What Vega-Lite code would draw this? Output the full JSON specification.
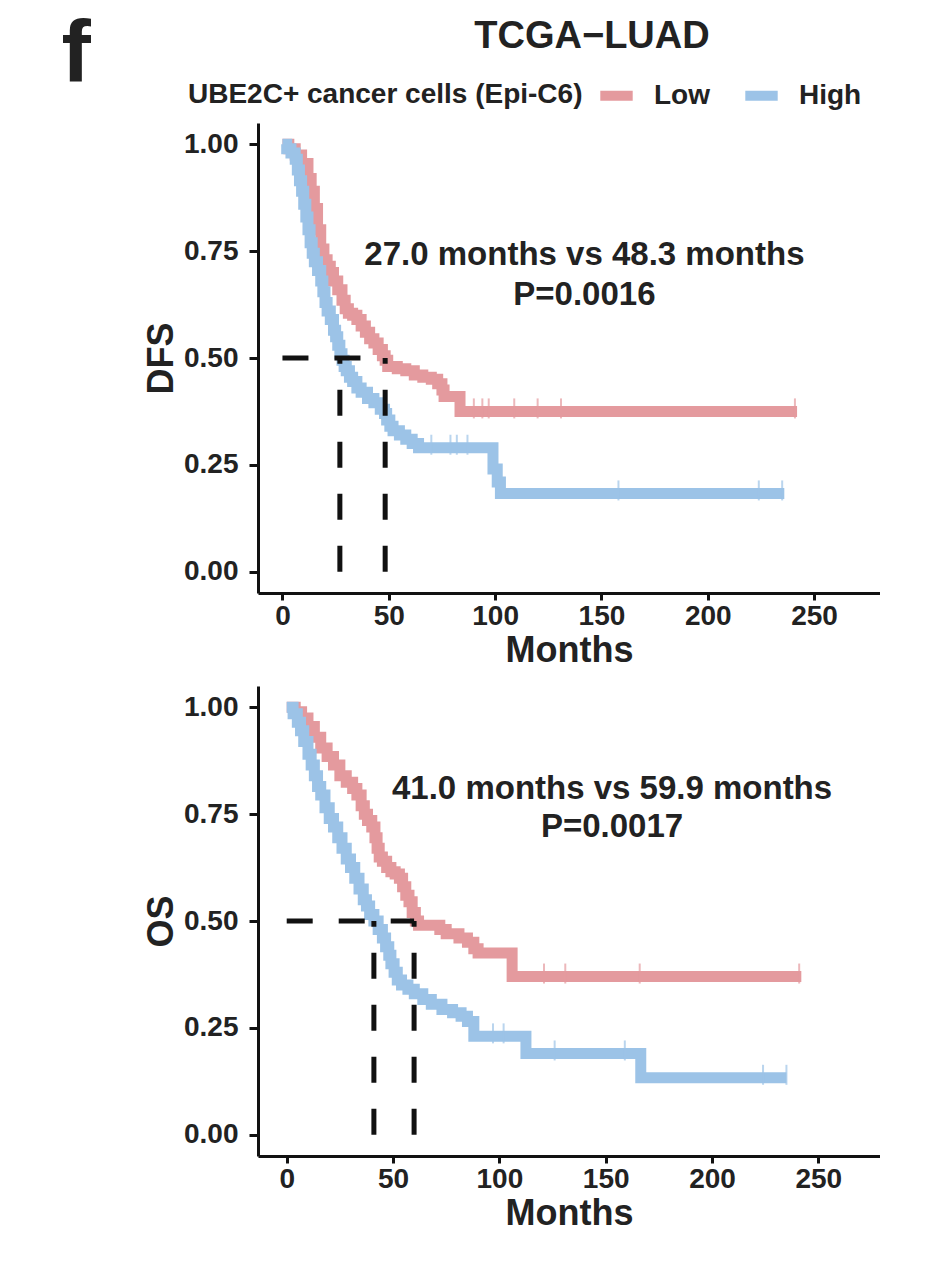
{
  "$schema": "https://vega.github.io/schema/vega-lite/v6.json",
  "padding": {"left": 61, "top": 11, "right": 0, "bottom": 0},
  "background": "white",
  "config": {
    "view": {"stroke": null},
    "font": "Liberation Sans",
    "axis": {
      "grid": false,
      "domainColor": "#111111",
      "domainWidth": 3,
      "tickColor": "#111111",
      "tickWidth": 3,
      "labelFont": "Liberation Sans",
      "labelFontSize": 28,
      "labelFontWeight": "bold",
      "labelColor": "#222222",
      "titleFont": "Liberation Sans",
      "titleFontSize": 36,
      "titleFontWeight": "bold",
      "titleColor": "#222222"
    },
    "axisX": {"tickSize": 7, "labelPadding": 2, "titlePadding": 3},
    "axisY": {"tickSize": 9, "labelPadding": 11, "titlePadding": 3},
    "title": {"font": "Liberation Sans", "fontWeight": "bold", "color": "#222222"}
  },
  "title": {"text": "f", "anchor": "start", "frame": "bounds", "fontSize": 88, "dx": -82, "offset": -81},
  "datasets": {
    "km": [
      {"panel":"DFS","group":"Low","month":0,"surv":1},{"panel":"DFS","group":"Low","month":3,"surv":0.99},{"panel":"DFS","group":"Low","month":6,"surv":0.975},{"panel":"DFS","group":"Low","month":9,"surv":0.955},{"panel":"DFS","group":"Low","month":12,"surv":0.92},{"panel":"DFS","group":"Low","month":13.5,"surv":0.89},{"panel":"DFS","group":"Low","month":15,"surv":0.85},{"panel":"DFS","group":"Low","month":16.5,"surv":0.8},{"panel":"DFS","group":"Low","month":18,"surv":0.755},{"panel":"DFS","group":"Low","month":19.5,"surv":0.73},{"panel":"DFS","group":"Low","month":21,"surv":0.715},{"panel":"DFS","group":"Low","month":22.5,"surv":0.7},{"panel":"DFS","group":"Low","month":24,"surv":0.68},{"panel":"DFS","group":"Low","month":26,"surv":0.66},{"panel":"DFS","group":"Low","month":28,"surv":0.635},{"panel":"DFS","group":"Low","month":29.5,"surv":0.615},{"panel":"DFS","group":"Low","month":31,"surv":0.605},{"panel":"DFS","group":"Low","month":33,"surv":0.6},{"panel":"DFS","group":"Low","month":35,"surv":0.59},{"panel":"DFS","group":"Low","month":37,"surv":0.575},{"panel":"DFS","group":"Low","month":39,"surv":0.56},{"panel":"DFS","group":"Low","month":41,"surv":0.545},{"panel":"DFS","group":"Low","month":43,"surv":0.535},{"panel":"DFS","group":"Low","month":45,"surv":0.52},{"panel":"DFS","group":"Low","month":47,"surv":0.505},{"panel":"DFS","group":"Low","month":48.3,"surv":0.495},{"panel":"DFS","group":"Low","month":49.5,"surv":0.48},{"panel":"DFS","group":"Low","month":54,"surv":0.475},{"panel":"DFS","group":"Low","month":58,"surv":0.47},{"panel":"DFS","group":"Low","month":62,"surv":0.46},{"panel":"DFS","group":"Low","month":66,"surv":0.455},{"panel":"DFS","group":"Low","month":70,"surv":0.45},{"panel":"DFS","group":"Low","month":73,"surv":0.44},{"panel":"DFS","group":"Low","month":75,"surv":0.425},{"panel":"DFS","group":"Low","month":76,"surv":0.41},{"panel":"DFS","group":"Low","month":83.5,"surv":0.375},{"panel":"DFS","group":"Low","month":242,"surv":0.375},
      {"panel":"DFS","group":"High","month":0,"surv":1},{"panel":"DFS","group":"High","month":2,"surv":0.99},{"panel":"DFS","group":"High","month":4,"surv":0.98},{"panel":"DFS","group":"High","month":6,"surv":0.965},{"panel":"DFS","group":"High","month":7,"surv":0.94},{"panel":"DFS","group":"High","month":8,"surv":0.915},{"panel":"DFS","group":"High","month":9,"surv":0.89},{"panel":"DFS","group":"High","month":10,"surv":0.86},{"panel":"DFS","group":"High","month":11,"surv":0.83},{"panel":"DFS","group":"High","month":12,"surv":0.8},{"panel":"DFS","group":"High","month":13,"surv":0.77},{"panel":"DFS","group":"High","month":14,"surv":0.745},{"panel":"DFS","group":"High","month":15,"surv":0.725},{"panel":"DFS","group":"High","month":16.5,"surv":0.705},{"panel":"DFS","group":"High","month":18,"surv":0.68},{"panel":"DFS","group":"High","month":19,"surv":0.655},{"panel":"DFS","group":"High","month":20,"surv":0.63},{"panel":"DFS","group":"High","month":21,"surv":0.61},{"panel":"DFS","group":"High","month":22.5,"surv":0.59},{"panel":"DFS","group":"High","month":24,"surv":0.565},{"panel":"DFS","group":"High","month":25,"surv":0.55},{"panel":"DFS","group":"High","month":26,"surv":0.53},{"panel":"DFS","group":"High","month":27,"surv":0.51},{"panel":"DFS","group":"High","month":28,"surv":0.495},{"panel":"DFS","group":"High","month":29,"surv":0.48},{"panel":"DFS","group":"High","month":30,"surv":0.47},{"panel":"DFS","group":"High","month":31.5,"surv":0.455},{"panel":"DFS","group":"High","month":33,"surv":0.445},{"panel":"DFS","group":"High","month":35,"surv":0.43},{"panel":"DFS","group":"High","month":37,"surv":0.42},{"panel":"DFS","group":"High","month":40,"surv":0.405},{"panel":"DFS","group":"High","month":43,"surv":0.395},{"panel":"DFS","group":"High","month":46,"surv":0.38},{"panel":"DFS","group":"High","month":48,"surv":0.37},{"panel":"DFS","group":"High","month":49,"surv":0.355},{"panel":"DFS","group":"High","month":50.5,"surv":0.34},{"panel":"DFS","group":"High","month":52,"surv":0.33},{"panel":"DFS","group":"High","month":55,"surv":0.32},{"panel":"DFS","group":"High","month":58,"surv":0.31},{"panel":"DFS","group":"High","month":61,"surv":0.3},{"panel":"DFS","group":"High","month":64,"surv":0.29},{"panel":"DFS","group":"High","month":99,"surv":0.24},{"panel":"DFS","group":"High","month":101,"surv":0.21},{"panel":"DFS","group":"High","month":102.5,"surv":0.183},{"panel":"DFS","group":"High","month":236,"surv":0.183},
      {"panel":"OS","group":"Low","month":0,"surv":1},{"panel":"OS","group":"Low","month":4,"surv":0.99},{"panel":"OS","group":"Low","month":7,"surv":0.975},{"panel":"OS","group":"Low","month":10,"surv":0.955},{"panel":"OS","group":"Low","month":13,"surv":0.93},{"panel":"OS","group":"Low","month":16,"surv":0.905},{"panel":"OS","group":"Low","month":19,"surv":0.885},{"panel":"OS","group":"Low","month":22,"surv":0.865},{"panel":"OS","group":"Low","month":25,"surv":0.84},{"panel":"OS","group":"Low","month":28,"surv":0.825},{"panel":"OS","group":"Low","month":31,"surv":0.81},{"panel":"OS","group":"Low","month":33,"surv":0.795},{"panel":"OS","group":"Low","month":35,"surv":0.77},{"panel":"OS","group":"Low","month":36.5,"surv":0.75},{"panel":"OS","group":"Low","month":38,"surv":0.735},{"panel":"OS","group":"Low","month":40,"surv":0.72},{"panel":"OS","group":"Low","month":41.5,"surv":0.695},{"panel":"OS","group":"Low","month":42.5,"surv":0.67},{"panel":"OS","group":"Low","month":43.5,"surv":0.65},{"panel":"OS","group":"Low","month":45,"surv":0.64},{"panel":"OS","group":"Low","month":47,"surv":0.625},{"panel":"OS","group":"Low","month":49,"surv":0.615},{"panel":"OS","group":"Low","month":51,"surv":0.61},{"panel":"OS","group":"Low","month":53,"surv":0.6},{"panel":"OS","group":"Low","month":54.5,"surv":0.58},{"panel":"OS","group":"Low","month":56,"surv":0.56},{"panel":"OS","group":"Low","month":57.5,"surv":0.545},{"panel":"OS","group":"Low","month":59,"surv":0.52},{"panel":"OS","group":"Low","month":60.5,"surv":0.5},{"panel":"OS","group":"Low","month":62,"surv":0.49},{"panel":"OS","group":"Low","month":72,"surv":0.48},{"panel":"OS","group":"Low","month":75,"surv":0.47},{"panel":"OS","group":"Low","month":81,"surv":0.46},{"panel":"OS","group":"Low","month":85,"surv":0.45},{"panel":"OS","group":"Low","month":88,"surv":0.435},{"panel":"OS","group":"Low","month":90,"surv":0.425},{"panel":"OS","group":"Low","month":106,"surv":0.37},{"panel":"OS","group":"Low","month":242,"surv":0.37},
      {"panel":"OS","group":"High","month":0,"surv":1},{"panel":"OS","group":"High","month":3,"surv":0.985},{"panel":"OS","group":"High","month":5,"surv":0.965},{"panel":"OS","group":"High","month":6.5,"surv":0.945},{"panel":"OS","group":"High","month":8,"surv":0.92},{"panel":"OS","group":"High","month":10,"surv":0.89},{"panel":"OS","group":"High","month":11.5,"surv":0.865},{"panel":"OS","group":"High","month":13,"surv":0.84},{"panel":"OS","group":"High","month":14.5,"surv":0.815},{"panel":"OS","group":"High","month":16,"surv":0.795},{"panel":"OS","group":"High","month":18,"surv":0.765},{"panel":"OS","group":"High","month":20,"surv":0.74},{"panel":"OS","group":"High","month":22,"surv":0.72},{"panel":"OS","group":"High","month":24,"surv":0.695},{"panel":"OS","group":"High","month":26,"surv":0.67},{"panel":"OS","group":"High","month":28,"surv":0.645},{"panel":"OS","group":"High","month":30,"surv":0.625},{"panel":"OS","group":"High","month":32,"surv":0.6},{"panel":"OS","group":"High","month":34,"surv":0.575},{"panel":"OS","group":"High","month":36,"surv":0.55},{"panel":"OS","group":"High","month":37.5,"surv":0.535},{"panel":"OS","group":"High","month":39,"surv":0.515},{"panel":"OS","group":"High","month":41,"surv":0.5},{"panel":"OS","group":"High","month":43,"surv":0.48},{"panel":"OS","group":"High","month":45,"surv":0.46},{"panel":"OS","group":"High","month":46.5,"surv":0.44},{"panel":"OS","group":"High","month":48,"surv":0.42},{"panel":"OS","group":"High","month":49,"surv":0.4},{"panel":"OS","group":"High","month":50.5,"surv":0.38},{"panel":"OS","group":"High","month":52,"surv":0.362},{"panel":"OS","group":"High","month":54,"surv":0.35},{"panel":"OS","group":"High","month":57,"surv":0.34},{"panel":"OS","group":"High","month":60,"surv":0.33},{"panel":"OS","group":"High","month":64,"surv":0.316},{"panel":"OS","group":"High","month":68,"surv":0.305},{"panel":"OS","group":"High","month":73,"surv":0.293},{"panel":"OS","group":"High","month":78,"surv":0.285},{"panel":"OS","group":"High","month":82,"surv":0.277},{"panel":"OS","group":"High","month":85,"surv":0.265},{"panel":"OS","group":"High","month":88,"surv":0.23},{"panel":"OS","group":"High","month":112.5,"surv":0.19},{"panel":"OS","group":"High","month":166.5,"surv":0.133},{"panel":"OS","group":"High","month":235,"surv":0.133}
    ],
    "censor": [
      {"panel":"DFS","group":"Low","month":90,"surv":0.375},{"panel":"DFS","group":"Low","month":94,"surv":0.375},{"panel":"DFS","group":"Low","month":97,"surv":0.375},{"panel":"DFS","group":"Low","month":109,"surv":0.375},{"panel":"DFS","group":"Low","month":120,"surv":0.375},{"panel":"DFS","group":"Low","month":131,"surv":0.375},{"panel":"DFS","group":"Low","month":241,"surv":0.375},
      {"panel":"DFS","group":"High","month":70,"surv":0.29},{"panel":"DFS","group":"High","month":79,"surv":0.29},{"panel":"DFS","group":"High","month":82,"surv":0.29},{"panel":"DFS","group":"High","month":87,"surv":0.29},{"panel":"DFS","group":"High","month":158,"surv":0.183},{"panel":"DFS","group":"High","month":224,"surv":0.183},{"panel":"DFS","group":"High","month":235,"surv":0.183},
      {"panel":"OS","group":"Low","month":121,"surv":0.37},{"panel":"OS","group":"Low","month":131,"surv":0.37},{"panel":"OS","group":"Low","month":166,"surv":0.37},{"panel":"OS","group":"Low","month":241,"surv":0.37},
      {"panel":"OS","group":"High","month":97,"surv":0.23},{"panel":"OS","group":"High","month":102,"surv":0.23},{"panel":"OS","group":"High","month":126,"surv":0.19},{"panel":"OS","group":"High","month":159,"surv":0.19},{"panel":"OS","group":"High","month":224,"surv":0.133},{"panel":"OS","group":"High","month":235,"surv":0.133}
    ],
    "median": [
      {"panel":"DFS","group":"High","month":27.0},{"panel":"DFS","group":"Low","month":48.3},
      {"panel":"OS","group":"High","month":41.0},{"panel":"OS","group":"Low","month":59.9}
    ],
    "hline": [
      {"panel":"DFS","start":0,"end":48.3},
      {"panel":"OS","start":0,"end":59.9}
    ],
    "annot": [
      {"panel":"DFS","line1":"27.0 months vs 48.3 months","line2":"P=0.0016"},
      {"panel":"OS","line1":"41.0 months vs 59.9 months","line2":"P=0.0017"}
    ]
  },
  "resolve": {"scale": {"color": "independent"}, "legend": {"color": "independent"}},
  "spacing": 17,
  "vconcat": [
    {
      "width": 622,
      "height": 470,
      "title": {"text": "TCGA−LUAD", "fontSize": 38, "anchor": "middle", "frame": "group", "dx": 23, "offset": 18},
      "layer": [
        {
          "data": {"name": "km"},
          "transform": [{"filter": "datum.panel === 'DFS'"}],
          "mark": {"type": "line", "interpolate": "step-after", "strokeWidth": 11},
          "encoding": {
            "x": {"field": "month", "type": "quantitative", "title": "Months", "scale": {"domain": [-11.5, 281], "nice": false, "zero": false}, "axis": {"values": [0, 50, 100, 150, 200, 250]}},
            "y": {"field": "surv", "type": "quantitative", "title": "DFS", "scale": {"domain": [-0.05, 1.05], "nice": false, "zero": false}, "axis": {"values": [0, 0.25, 0.5, 0.75, 1], "format": ".2f"}},
            "color": {"field": "group", "type": "nominal", "scale": {"domain": ["Low", "High"], "range": ["#E49A9E", "#9CC3E7"]},
              "legend": {"orient": "none", "legendX": -70, "legendY": -49, "direction": "horizontal", "title": "UBE2C+ cancer cells (Epi-C6)", "titleOrient": "left", "titleLimit": 800, "titleFontSize": 28, "titleFontWeight": "bold", "titleColor": "#222222", "titlePadding": 12, "labelFontSize": 28, "labelFontWeight": "bold", "labelColor": "#222222", "labelOffset": 16, "labelLimit": 300, "symbolType": "stroke", "symbolStrokeWidth": 10, "symbolSize": 1050, "columnPadding": 15}}
          }
        },
        {
          "data": {"name": "censor"},
          "transform": [{"filter": "datum.panel === 'DFS' && datum.group === 'Low'"}],
          "mark": {"type": "tick", "orient": "vertical", "size": 20, "thickness": 2, "color": "#E49A9E", "yOffset": -3},
          "encoding": {"x": {"field": "month", "type": "quantitative", "title": "Months"}, "y": {"field": "surv", "type": "quantitative", "title": "DFS"}}
        },
        {
          "data": {"name": "censor"},
          "transform": [{"filter": "datum.panel === 'DFS' && datum.group === 'High'"}],
          "mark": {"type": "tick", "orient": "vertical", "size": 20, "thickness": 2, "color": "#9CC3E7", "yOffset": -3},
          "encoding": {"x": {"field": "month", "type": "quantitative", "title": "Months"}, "y": {"field": "surv", "type": "quantitative", "title": "DFS"}}
        },
        {
          "data": {"name": "median"},
          "transform": [{"filter": "datum.panel === 'DFS'"}],
          "mark": {"type": "rule", "strokeDash": [26, 26], "strokeWidth": 5, "color": "#111111"},
          "encoding": {"x": {"field": "month", "type": "quantitative", "title": "Months"}, "y": {"datum": 0, "title": "DFS"}, "y2": {"datum": 0.5}}
        },
        {
          "data": {"name": "hline"},
          "transform": [{"filter": "datum.panel === 'DFS'"}],
          "mark": {"type": "rule", "strokeDash": [26, 26], "strokeWidth": 5, "color": "#111111"},
          "encoding": {"x": {"field": "start", "type": "quantitative", "title": "Months"}, "x2": {"field": "end"}, "y": {"datum": 0.5, "title": "DFS"}}
        },
        {
          "data": {"name": "annot"},
          "transform": [{"filter": "datum.panel === 'DFS'"}],
          "mark": {"type": "text", "fontSize": 33, "fontWeight": "bold", "color": "#222222", "baseline": "middle"},
          "encoding": {"x": {"datum": 142, "title": "Months"}, "y": {"datum": 0.74, "title": "DFS"}, "text": {"field": "line1"}}
        },
        {
          "data": {"name": "annot"},
          "transform": [{"filter": "datum.panel === 'DFS'"}],
          "mark": {"type": "text", "fontSize": 33, "fontWeight": "bold", "color": "#222222", "baseline": "middle"},
          "encoding": {"x": {"datum": 142, "title": "Months"}, "y": {"datum": 0.648, "title": "DFS"}, "text": {"field": "line2"}}
        }
      ]
    },
    {
      "width": 622,
      "height": 470,
      "layer": [
        {
          "data": {"name": "km"},
          "transform": [{"filter": "datum.panel === 'OS'"}],
          "mark": {"type": "line", "interpolate": "step-after", "strokeWidth": 11},
          "encoding": {
            "x": {"field": "month", "type": "quantitative", "title": "Months", "scale": {"domain": [-13.5, 279], "nice": false, "zero": false}, "axis": {"values": [0, 50, 100, 150, 200, 250]}},
            "y": {"field": "surv", "type": "quantitative", "title": "OS", "scale": {"domain": [-0.05, 1.05], "nice": false, "zero": false}, "axis": {"values": [0, 0.25, 0.5, 0.75, 1], "format": ".2f"}},
            "color": {"field": "group", "type": "nominal", "scale": {"domain": ["Low", "High"], "range": ["#E49A9E", "#9CC3E7"]}, "legend": null}
          }
        },
        {
          "data": {"name": "censor"},
          "transform": [{"filter": "datum.panel === 'OS' && datum.group === 'Low'"}],
          "mark": {"type": "tick", "orient": "vertical", "size": 20, "thickness": 2, "color": "#E49A9E", "yOffset": -3},
          "encoding": {"x": {"field": "month", "type": "quantitative", "title": "Months"}, "y": {"field": "surv", "type": "quantitative", "title": "OS"}}
        },
        {
          "data": {"name": "censor"},
          "transform": [{"filter": "datum.panel === 'OS' && datum.group === 'High'"}],
          "mark": {"type": "tick", "orient": "vertical", "size": 20, "thickness": 2, "color": "#9CC3E7", "yOffset": -3},
          "encoding": {"x": {"field": "month", "type": "quantitative", "title": "Months"}, "y": {"field": "surv", "type": "quantitative", "title": "OS"}}
        },
        {
          "data": {"name": "median"},
          "transform": [{"filter": "datum.panel === 'OS'"}],
          "mark": {"type": "rule", "strokeDash": [26, 26], "strokeWidth": 5, "color": "#111111"},
          "encoding": {"x": {"field": "month", "type": "quantitative", "title": "Months"}, "y": {"datum": 0, "title": "OS"}, "y2": {"datum": 0.5}}
        },
        {
          "data": {"name": "hline"},
          "transform": [{"filter": "datum.panel === 'OS'"}],
          "mark": {"type": "rule", "strokeDash": [26, 26], "strokeWidth": 5, "color": "#111111"},
          "encoding": {"x": {"field": "start", "type": "quantitative", "title": "Months"}, "x2": {"field": "end"}, "y": {"datum": 0.5, "title": "OS"}}
        },
        {
          "data": {"name": "annot"},
          "transform": [{"filter": "datum.panel === 'OS'"}],
          "mark": {"type": "text", "fontSize": 33, "fontWeight": "bold", "color": "#222222", "baseline": "middle"},
          "encoding": {"x": {"datum": 153, "title": "Months"}, "y": {"datum": 0.81, "title": "OS"}, "text": {"field": "line1"}}
        },
        {
          "data": {"name": "annot"},
          "transform": [{"filter": "datum.panel === 'OS'"}],
          "mark": {"type": "text", "fontSize": 33, "fontWeight": "bold", "color": "#222222", "baseline": "middle"},
          "encoding": {"x": {"datum": 153, "title": "Months"}, "y": {"datum": 0.72, "title": "OS"}, "text": {"field": "line2"}}
        }
      ]
    }
  ]
}
